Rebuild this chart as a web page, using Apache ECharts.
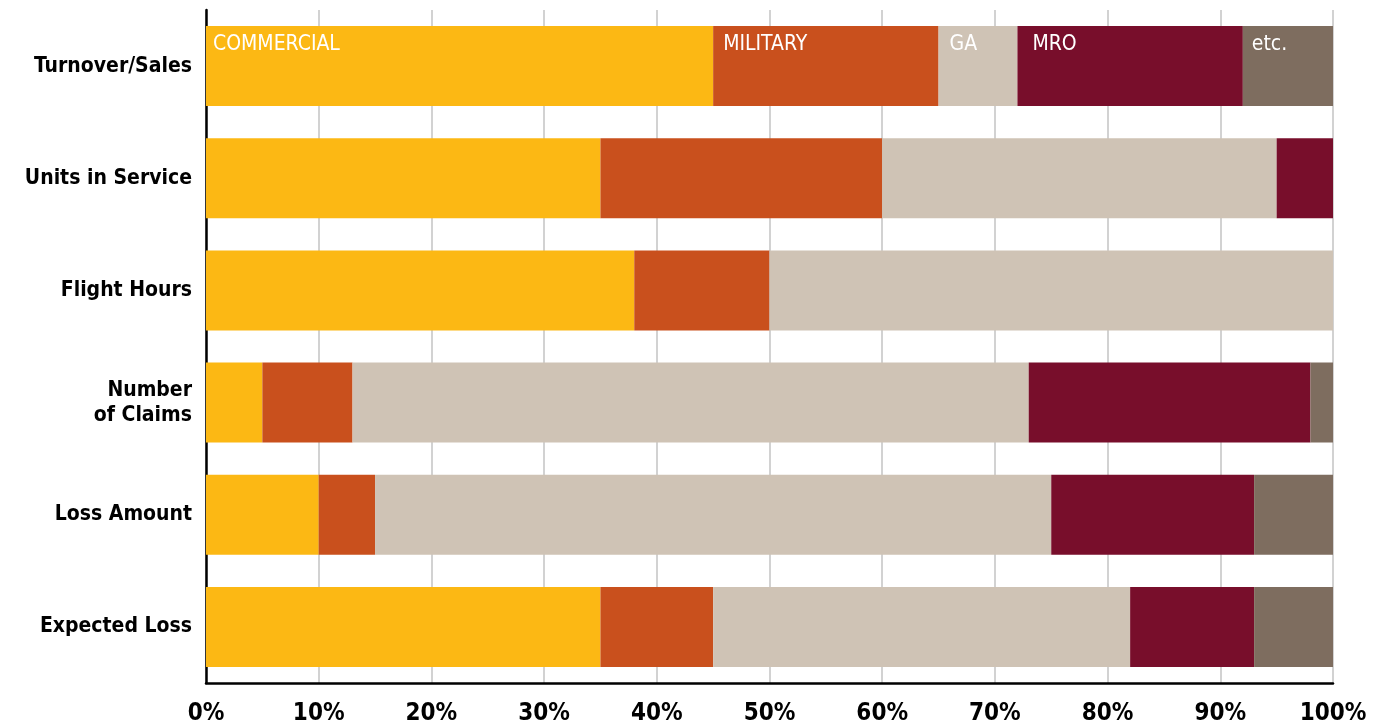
<!DOCTYPE html>
<html>
<head>
<meta charset="utf-8">
<style>
  html, body { margin: 0; padding: 0; background: #ffffff; }
  #chart { width: 1389px; height: 726px; }
</style>
<script src="https://cdn.jsdelivr.net/npm/echarts@6/dist/echarts.min.js"></script>
</head>
<body>
<div id="chart"></div>
<script>
// Share of each aviation segment, per measure (percent, each row sums to 100)
const categories = ['Turnover/Sales', 'Units in Service', 'Flight Hours', 'Number\nof Claims', 'Loss Amount', 'Expected Loss'];
const segmentNames = ['COMMERCIAL', 'MILITARY', 'GA', 'MRO', 'etc.'];
const commercial = [45, 35, 38, 5, 10, 35];
const military   = [20, 25, 12, 8, 5, 10];
const ga         = [7, 35, 50, 60, 60, 37];
const mro        = [20, 5, 0, 25, 18, 11];
const etc        = [8, 0, 0, 2, 7, 7];
const tickValues = [0, 10, 20, 30, 40, 50, 60, 70, 80, 90, 100];

const colors = ['#fcb814', '#c9501d', '#cfc3b5', '#780e2b', '#7e6d5f'];
const seriesData = [commercial, military, ga, mro, etc];
const labelOffsets = [[1, 2], [4, 2], [5, 2], [9, 2], [3, 2]];

const chart = echarts.init(document.getElementById('chart'));
chart.setOption({
  animation: false,
  grid: { left: 206, right: 56, top: 10, bottom: 43, containLabel: false },
  xAxis: {
    type: 'value',
    min: 0,
    max: 100,
    interval: 10,
    axisLine: { show: true, lineStyle: { color: '#000', width: 2.5 } },
    axisTick: { show: false },
    axisLabel: {
      formatter: v => tickValues.includes(v) ? v + '%' : '',
      color: '#000',
      fontFamily: 'DejaVu Sans Condensed',
      fontWeight: 'bold',
      fontSize: 24,
      margin: 19
    },
    splitLine: { show: true, lineStyle: { color: '#d2d2d2', width: 2 } }
  },
  yAxis: {
    type: 'category',
    data: categories,
    inverse: true,
    axisLine: { show: true, lineStyle: { color: '#000', width: 2.5 } },
    axisTick: { show: false },
    axisLabel: {
      color: '#000',
      fontFamily: 'DejaVu Sans Condensed',
      fontWeight: 'bold',
      fontSize: 21,
      lineHeight: 25,
      margin: 14,
      align: 'right'
    },
    splitLine: { show: false }
  },
  series: seriesData.map((data, i) => ({
    name: segmentNames[i],
    type: 'bar',
    stack: 'total',
    barWidth: 80,
    data: data,
    itemStyle: { color: colors[i] },
    label: {
      show: true,
      position: 'insideTopLeft',
      offset: labelOffsets[i],
      distance: 6,
      color: '#ffffff',
      fontFamily: 'DejaVu Sans Condensed',
      fontSize: 21,
      formatter: p => p.dataIndex === 0 ? segmentNames[i] : ''
    }
  }))
});
</script>
</body>
</html>
